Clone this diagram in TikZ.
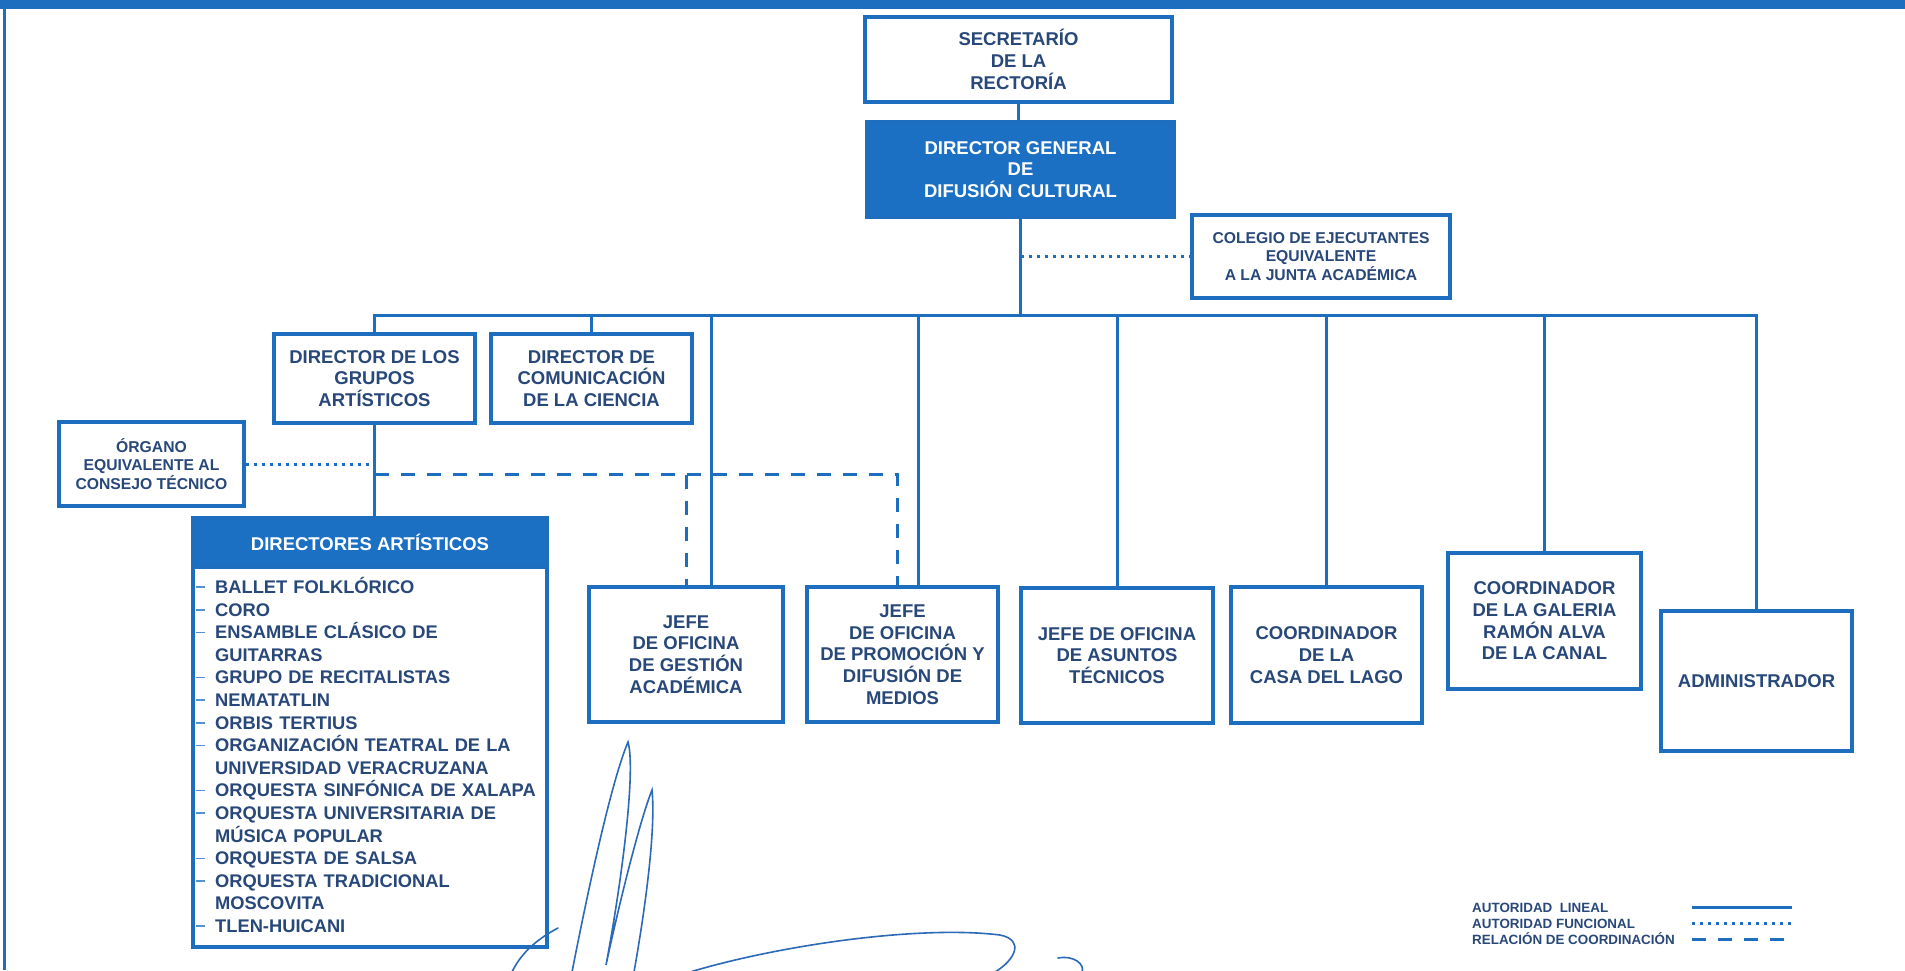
\documentclass[tikz,border=0pt]{standalone}
\usepackage{fontspec}
\setmainfont{Liberation Sans}
\usetikzlibrary{calc}
\definecolor{lblue}{RGB}{30,110,192}
\definecolor{fblue}{RGB}{28,112,196}
\definecolor{tblue}{RGB}{40,72,122}
\definecolor{sblue}{RGB}{45,105,185}
\newcommand{\fbig}{\bfseries\fontsize{18.5}{21.7}\selectfont}
\newcommand{\fmid}{\bfseries\fontsize{15.7}{18.5}\selectfont}
\newcommand{\fleg}{\bfseries\fontsize{13.4}{16}\selectfont}
\newcommand{\flist}{\bfseries\fontsize{18.3}{22.6}\selectfont}
\newcommand{\itemdash}{\leavevmode\llap{{\color{lblue!75}\rule[5.5pt]{9pt}{1.6pt}}\hspace{10pt}}}
\begin{document}
\begin{tikzpicture}[x=1pt,y=-1pt,
  box/.style={draw=lblue,line width=3.2pt,fill=white,inner sep=0pt,align=center,text=tblue,font=\fbig},
  fbox/.style={box,fill=fblue,text=white},
  listtext/.style={inner sep=0pt,text width=330pt,align=left,text=tblue,font=\flist,anchor=base west},
  legtext/.style={inner sep=0pt,text=tblue,font=\fleg,anchor=base west},
  linline/.style={draw=lblue,line width=3pt},
  funcline/.style={draw=lblue,line width=3pt,dash pattern=on 3pt off 5pt},
  coordline/.style={draw=lblue,line width=3pt,dash pattern=on 14pt off 12pt},
  sig/.style={draw=sblue,line width=1.6pt,line cap=round}]
\useasboundingbox (0,0) rectangle (1905,970);
\fill[white] (0,0) rectangle (1905,970);
\fill[lblue] (0,0) rectangle (1905,9);
\draw[lblue,line width=3pt] (4,0) -- (4,970);

% boxes
\node[box,minimum width=307,minimum height=85] (sec) at (1018.5,59.5) {SECRETARÍO\\DE LA\\RECTORÍA};
\node[fbox,minimum width=307,minimum height=95] (dg) at (1020.5,169.5) {DIRECTOR GENERAL\\DE\\DIFUSIÓN CULTURAL};
\node[box,font=\fmid,minimum width=258,minimum height=83] (col) at (1321,256.5) {COLEGIO DE EJECUTANTES\\EQUIVALENTE\\A LA JUNTA ACADÉMICA};
\node[box,minimum width=201,minimum height=89] (dgr) at (374.5,378.5) {DIRECTOR DE LOS\\GRUPOS\\ARTÍSTICOS};
\node[box,minimum width=201,minimum height=89] (dcc) at (591.5,378.5) {DIRECTOR DE\\COMUNICACIÓN\\DE LA CIENCIA};
\node[box,font=\fmid,minimum width=185,minimum height=84] (org) at (151.5,464) {ÓRGANO\\EQUIVALENTE AL\\CONSEJO TÉCNICO};
\node[box,minimum width=354,minimum height=429] (dart) at (370,732.5) {};
\node[fbox,minimum width=354,minimum height=49] (darth) at (370,542.5) {DIRECTORES ARTÍSTICOS};
\node[listtext] (items) at (215,593.5) {%
\itemdash BALLET FOLKLÓRICO\\
\itemdash CORO\\
\itemdash ENSAMBLE CLÁSICO DE\\
GUITARRAS\\
\itemdash GRUPO DE RECITALISTAS\\
\itemdash NEMATATLIN\\
\itemdash ORBIS TERTIUS\\
\itemdash ORGANIZACIÓN TEATRAL DE LA\\
UNIVERSIDAD VERACRUZANA\\
\itemdash ORQUESTA SINFÓNICA DE XALAPA\\
\itemdash ORQUESTA UNIVERSITARIA DE\\
MÚSICA POPULAR\\
\itemdash ORQUESTA DE SALSA\\
\itemdash ORQUESTA TRADICIONAL\\
MOSCOVITA\\
\itemdash TLEN-HUICANI};
\node[box,minimum width=194,minimum height=135] (jga) at (686,654.5) {JEFE\\DE OFICINA\\DE GESTIÓN\\ACADÉMICA};
\node[box,minimum width=191,minimum height=135] (jpd) at (902.5,654.5) {JEFE\\DE OFICINA\\DE PROMOCIÓN Y\\DIFUSIÓN DE\\MEDIOS};
\node[box,minimum width=192,minimum height=135] (jat) at (1117,655.5) {JEFE DE OFICINA\\DE ASUNTOS\\TÉCNICOS};
\node[box,minimum width=191,minimum height=136] (ccl) at (1326.5,655) {COORDINADOR\\DE LA\\CASA DEL LAGO};
\node[box,minimum width=193,minimum height=136] (cgr) at (1544.5,621) {COORDINADOR\\DE LA GALERIA\\RAMÓN ALVA\\DE LA CANAL};
\node[box,minimum width=191,minimum height=140] (adm) at (1756.5,681) {ADMINISTRADOR};

% lineal connectors
\coordinate (bus) at ($(dg.south)+(0,97)$);
\draw[linline] (sec.south) -- (sec.south |- dg.north);
\draw[linline] (dg.south) -- (bus);
\draw[linline] (dgr.north) |- (bus) -| (adm.north);
\draw[linline] (dcc.north |- bus) -- (dcc.north);
\coordinate (jgaS) at ($(jga.north)+(25,0)$);
\coordinate (jpdS) at ($(jpd.north)+(15.5,0)$);
\draw[linline] (jgaS |- bus) -- (jgaS);
\draw[linline] (jpdS |- bus) -- (jpdS);
\draw[linline] (jat.north |- bus) -- (jat.north);
\draw[linline] (ccl.north |- bus) -- (ccl.north);
\draw[linline] (cgr.north |- bus) -- (cgr.north);
\draw[linline] (dgr.south) -- (dgr.south |- darth.north);

% functional
\draw[funcline] (dg.south |- col.west) -- (col.west);
\draw[funcline] (org.east) -- (org.east -| dgr.south);

% coordination
\coordinate (crd) at ($(dgr.south)+(0,50)$);
\coordinate (jpdD) at ($(jpd.north)+(-5.5,0)$);
\draw[coordline] (crd) -- (crd -| jpdD) -- (jpdD);
\draw[coordline] (crd -| jga.north) -- (jga.north);

% legend
\node[legtext] (lg1) at (1472,912) {AUTORIDAD~ LINEAL};
\node[legtext] (lg2) at (1472,928) {AUTORIDAD FUNCIONAL};
\node[legtext] (lg3) at (1472,944) {RELACIÓN DE COORDINACIÓN};
\coordinate (la1) at (1692,907); \coordinate (lb1) at (1792,907);
\coordinate (la2) at (1692,923); \coordinate (lb2) at (1792,923);
\coordinate (la3) at (1692,939); \coordinate (lb3) at (1795,939);
\draw[linline] (la1) -- (lb1);
\draw[funcline] (la2) -- (lb2);
\draw[coordline] (la3) -- (lb3);

% signature scribbles
\draw[sig] (558,928) .. controls (535,940) and (520,955) .. (512,972);
\draw[sig] (572,972) .. controls (590,880) and (612,780) .. (628,742) .. controls (636,770) and (622,880) .. (606,965) .. controls (620,900) and (640,820) .. (652,790) .. controls (656,830) and (645,910) .. (634,972);
\draw[sig] (690,972) .. controls (780,945) and (920,925) .. (1000,935) .. controls (1025,940) and (1015,960) .. (995,972);
\draw[sig] (1058,958) .. controls (1075,955) and (1085,965) .. (1082,972);
\end{tikzpicture}
\end{document}
